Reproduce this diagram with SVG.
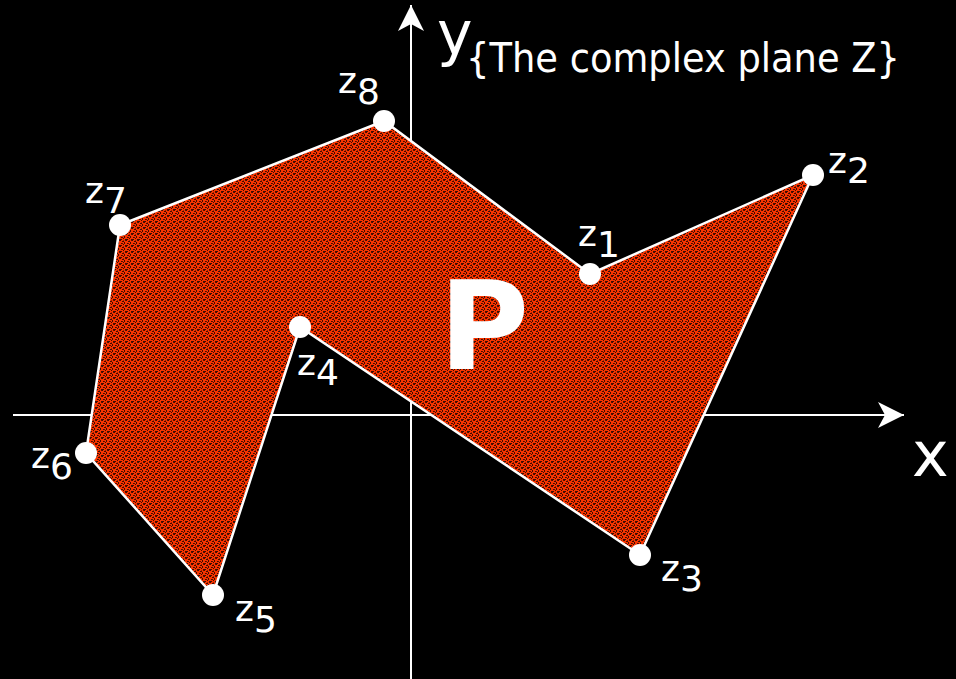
<svg xmlns="http://www.w3.org/2000/svg" width="956" height="679" viewBox="0 0 956 679">
<style>
.lbl{font-family:"DejaVu Sans","Liberation Sans",sans-serif;font-size:36px;fill:#fff}
.ax{stroke:#fff;stroke-width:2;fill:none}
.dot{fill:#fff}
</style>
<defs>
<pattern id="tex" width="6" height="6" patternUnits="userSpaceOnUse">
<rect width="6" height="6" fill="#f83400"/>
<rect x="0" y="0" width="1" height="1" fill="#000" fill-opacity="0.75"/>
<rect x="2" y="1" width="2" height="1" fill="#000" fill-opacity="0.75"/>
<rect x="4" y="2" width="1" height="2" fill="#000" fill-opacity="0.75"/>
<rect x="1" y="3" width="1" height="1" fill="#000" fill-opacity="0.75"/>
<rect x="3" y="4" width="1" height="1" fill="#000" fill-opacity="0.75"/>
<rect x="5" y="5" width="1" height="1" fill="#000" fill-opacity="0.75"/>
<rect x="0" y="5" width="2" height="1" fill="#000" fill-opacity="0.75"/>
<rect x="5" y="0" width="1" height="1" fill="#5a1000"/>
<rect x="2" y="3" width="1" height="1" fill="#5a1000"/>
<rect x="3" y="0" width="1" height="1" fill="#a02000"/>
</pattern>
<marker id="arr" markerUnits="userSpaceOnUse" markerWidth="30" markerHeight="30" viewBox="-28 -15 30 30" refX="0" refY="0" orient="auto">
<path d="M0,0 L-26,-13 L-19,0 L-26,13 Z" fill="#fff"/>
</marker>
</defs>
<rect width="956" height="679" fill="#000"/>
<g id="axes">
<line class="ax" x1="13" y1="415" x2="904" y2="415" marker-end="url(#arr)"/>
<line class="ax" x1="411" y1="679" x2="411" y2="5" marker-end="url(#arr)"/>
<text x="912" y="476" font-family="DejaVu Sans, Liberation Sans, sans-serif" font-size="62" fill="#fff">x</text>
<text x="437" y="54" font-family="DejaVu Sans, Liberation Sans, sans-serif" font-size="60" fill="#fff">y</text>
<text x="466" y="72" font-family="DejaVu Sans, Liberation Sans, sans-serif" font-size="41" fill="#fff" textLength="434" lengthAdjust="spacingAndGlyphs">{The complex plane Z}</text>
</g>
<g id="connectors">
<polygon points="590,274 813,175 640,555 300,327 213,595 86,453 120,225 384,121" fill="url(#tex)" stroke="#fff" stroke-width="2.5" stroke-linejoin="miter"/>
</g>
<g id="P"><text x="439" y="369" font-family="DejaVu Sans, Liberation Sans, sans-serif" font-weight="bold" font-size="123" fill="#fff">P</text></g>
<g id="z1"><circle class="dot" cx="590" cy="274" r="11"/><text class="lbl" x="578" y="246">z<tspan dy="11">1</tspan></text></g>
<g id="z2"><circle class="dot" cx="813" cy="175" r="11"/><text class="lbl" x="828" y="173">z<tspan dy="10">2</tspan></text></g>
<g id="z3"><circle class="dot" cx="640" cy="555" r="11"/><text class="lbl" x="661" y="581">z<tspan dy="10">3</tspan></text></g>
<g id="z4"><circle class="dot" cx="300" cy="327" r="11"/><text class="lbl" x="297" y="375">z<tspan dy="10">4</tspan></text></g>
<g id="z5"><circle class="dot" cx="213" cy="595" r="11"/><text class="lbl" x="235" y="621">z<tspan dy="11">5</tspan></text></g>
<g id="z6"><circle class="dot" cx="86" cy="453" r="11"/><text class="lbl" x="31" y="468">z<tspan dy="11">6</tspan></text></g>
<g id="z7"><circle class="dot" cx="120" cy="225" r="11"/><text class="lbl" x="85" y="203">z<tspan dy="10">7</tspan></text></g>
<g id="z8"><circle class="dot" cx="384" cy="121" r="11"/><text class="lbl" x="338" y="93">z<tspan dy="11">8</tspan></text></g>
</svg>
